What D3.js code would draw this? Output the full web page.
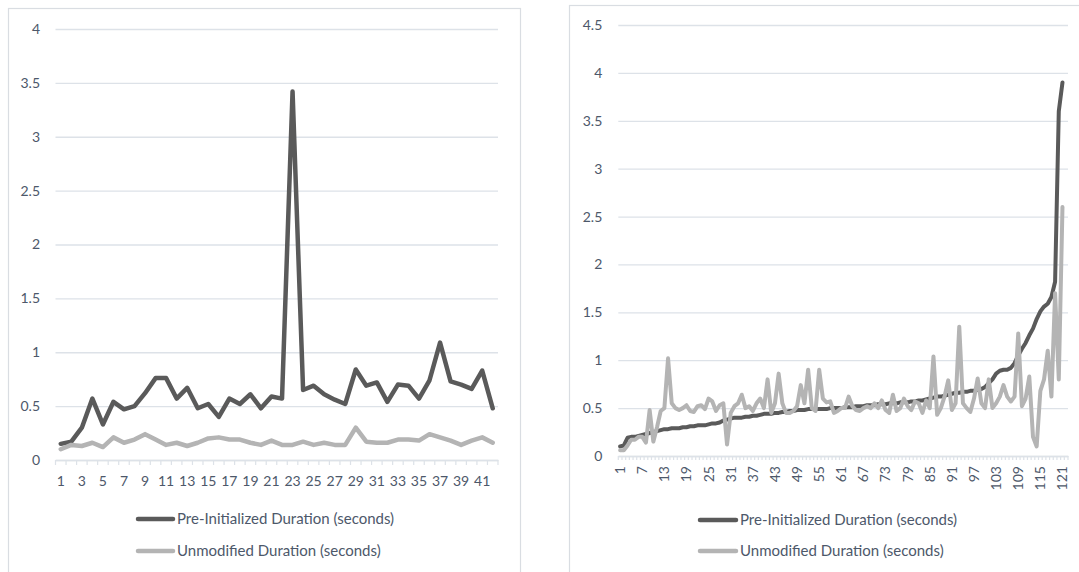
<!DOCTYPE html>
<html><head><meta charset="utf-8">
<script src="https://cdn.jsdelivr.net/npm/d3@7"></script>
<style>
body{margin:0;background:#fff;}
svg{display:block;}
text{font-family:Lato,"Liberation Sans",sans-serif;}
</style></head>
<body><svg id="c" width="1079" height="572"></svg>
<script>
// ---------- DATA ----------
const seriesNames = ["Pre-Initialized Duration (seconds)", "Unmodified Duration (seconds)"];

const leftCategories = d3.range(1, 43);
const leftPreInit = [0.15,0.17,0.30,0.57,0.33,0.54,0.47,0.50,0.62,0.76,
  0.76,0.57,0.67,0.48,0.52,0.40,0.57,0.52,0.61,0.48,
  0.59,0.57,3.42,0.65,0.69,0.61,0.56,0.52,0.84,0.69,
  0.72,0.54,0.70,0.69,0.57,0.74,1.09,0.73,0.70,0.66,
  0.83,0.48];
const leftUnmod = [0.10,0.14,0.13,0.16,0.12,0.21,0.16,0.19,0.24,0.19,
  0.14,0.16,0.13,0.16,0.20,0.21,0.19,0.19,0.16,0.14,
  0.18,0.14,0.14,0.17,0.14,0.16,0.14,0.14,0.30,0.17,
  0.16,0.16,0.19,0.19,0.18,0.24,0.21,0.18,0.14,0.18,
  0.21,0.16];
const leftYTicks = [0,0.5,1,1.5,2,2.5,3,3.5,4];
const leftXTickLabels = [1,3,5,7,9,11,13,15,17,19,21,23,25,27,29,31,33,35,37,39,41];

const rightCategories = d3.range(1, 123);
const rightPreInit = [0.10,0.11,0.19,0.20,0.20,0.21,0.22,0.23,0.24,0.25,
  0.26,0.27,0.28,0.28,0.29,0.29,0.29,0.30,0.30,0.31,
  0.31,0.32,0.32,0.32,0.33,0.34,0.34,0.35,0.37,0.38,
  0.39,0.40,0.40,0.40,0.41,0.41,0.42,0.42,0.43,0.44,
  0.44,0.44,0.45,0.45,0.46,0.46,0.47,0.47,0.48,0.48,
  0.48,0.49,0.49,0.49,0.49,0.49,0.49,0.50,0.50,0.50,
  0.50,0.51,0.51,0.51,0.52,0.52,0.52,0.53,0.53,0.53,
  0.54,0.54,0.54,0.55,0.55,0.55,0.56,0.56,0.56,0.57,
  0.57,0.58,0.58,0.59,0.60,0.61,0.62,0.62,0.63,0.64,
  0.65,0.66,0.66,0.67,0.67,0.68,0.68,0.69,0.70,0.72,
  0.76,0.80,0.86,0.89,0.90,0.90,0.92,0.97,1.05,1.12,
  1.18,1.26,1.33,1.43,1.51,1.56,1.59,1.66,1.82,3.60,
  3.90];
const rightUnmod = [0.06,0.06,0.11,0.17,0.17,0.20,0.20,0.14,0.48,0.15,
  0.30,0.47,0.50,1.02,0.55,0.50,0.48,0.50,0.53,0.47,
  0.46,0.52,0.53,0.49,0.60,0.57,0.47,0.53,0.55,0.12,
  0.45,0.52,0.55,0.64,0.50,0.52,0.47,0.55,0.60,0.50,
  0.80,0.45,0.55,0.86,0.55,0.45,0.45,0.47,0.52,0.74,
  0.55,0.90,0.50,0.47,0.90,0.60,0.56,0.57,0.45,0.47,
  0.50,0.50,0.62,0.52,0.48,0.47,0.50,0.52,0.50,0.55,
  0.50,0.58,0.48,0.45,0.64,0.47,0.50,0.60,0.52,0.48,
  0.57,0.55,0.45,0.58,0.50,1.04,0.43,0.50,0.62,0.79,
  0.48,0.55,1.35,0.55,0.50,0.46,0.60,0.81,0.55,0.50,
  0.80,0.50,0.55,0.62,0.74,0.62,0.57,0.62,1.28,0.52,
  0.60,0.83,0.20,0.10,0.68,0.80,1.10,0.62,1.70,0.80,
  2.60];
const rightYTicks = [0,0.5,1,1.5,2,2.5,3,3.5,4,4.5];
const rightXTickLabels = [1,7,13,19,25,31,37,43,49,55,61,67,73,79,85,91,97,103,109,115,121];

// ---------- STYLE ----------
const colors = ["#5a5a5a", "#b4b4b4"];
const textColor = "#4d586a";
const gridColor = "#dde2e8";
const borderColor = "#d9dde2";
const axisFont = 14;
const legendFont = 15;

const svg = d3.select("#c");

function drawChart(cfg) {
  const g = svg.append("g");
  g.append("rect").attr("x", cfg.box[0]).attr("y", cfg.box[1])
    .attr("width", cfg.box[2]).attr("height", cfg.box[3])
    .attr("fill", "#fff").attr("stroke", borderColor).attr("stroke-width", 1.2);

  const x = d3.scaleBand().domain(cfg.categories).range([cfg.x0, cfg.x1]).padding(0);
  const y = d3.scaleLinear().domain([0, cfg.yMax]).range([cfg.yB, cfg.yT]);

  const ya = g.append("g").attr("transform", `translate(${cfg.x0},0)`)
    .call(d3.axisLeft(y).tickValues(cfg.yTicks).tickSize(-(cfg.x1 - cfg.x0))
      .tickPadding(cfg.yPad).tickFormat(d => String(d)));
  ya.select(".domain").remove();
  ya.selectAll(".tick line").attr("stroke", gridColor).attr("stroke-width", 1.3);
  ya.selectAll(".tick text").attr("fill", textColor).attr("font-size", axisFont)
    .attr("font-family", "Lato");

  const bounds = cfg.categories.map(c => x(c)).concat([cfg.x1]);
  g.append("g").selectAll("line").data(bounds).join("line")
    .attr("x1", d => d).attr("x2", d => d)
    .attr("y1", cfg.yB).attr("y2", cfg.yB + cfg.tickLen)
    .attr("stroke", gridColor).attr("stroke-width", 1.2);

  const xa = g.append("g").attr("transform", `translate(0,${cfg.yB})`)
    .call(d3.axisBottom(x).tickValues(cfg.xLabels).tickSize(0).tickPadding(cfg.xPad));
  xa.select(".domain").attr("stroke", gridColor).attr("stroke-width", 1.3);
  xa.selectAll(".tick text").attr("fill", textColor).attr("font-size", axisFont)
    .attr("font-family", "Lato");
  if (cfg.rotate) {
    xa.selectAll(".tick text")
      .attr("transform", "rotate(-90)")
      .attr("text-anchor", "end")
      .attr("x", -cfg.xPad).attr("y", 0).attr("dy", "0.35em");
  }

  [cfg.s1, cfg.s2].forEach((s, i) => {
    const line = d3.line()
      .x((d, j) => x(cfg.categories[j]) + x.bandwidth() / 2)
      .y(d => y(d));
    g.append("path").datum(s).attr("d", line)
      .attr("fill", "none").attr("stroke", colors[i])
      .attr("stroke-width", cfg.lw).attr("stroke-linejoin", "round")
      .attr("stroke-linecap", "round");
  });

  seriesNames.forEach((name, i) => {
    const ly = cfg.legY[i];
    g.append("line").attr("x1", cfg.legSym[0]).attr("x2", cfg.legSym[1])
      .attr("y1", ly).attr("y2", ly).attr("stroke", colors[i])
      .attr("stroke-width", 4.5).attr("stroke-linecap", "round");
    g.append("text").attr("x", cfg.legText).attr("y", ly).attr("dy", "0.35em")
      .attr("fill", textColor).attr("font-size", legendFont).text(name);
  });
}

drawChart({
  box: [8.5, 8.5, 512, 600],
  categories: leftCategories, s1: leftPreInit, s2: leftUnmod,
  x0: 55.5, x1: 498, yB: 460, yT: 29, yMax: 4,
  yTicks: leftYTicks, yPad: 15.5, xLabels: leftXTickLabels, xPad: 16, tickLen: 5,
  rotate: false, lw: 4.5,
  legSym: [138, 173], legText: 177, legY: [519, 551]
});

drawChart({
  box: [569.5, 5.5, 530, 600],
  categories: rightCategories, s1: rightPreInit, s2: rightUnmod,
  x0: 618.3, x1: 1068, yB: 456, yT: 25, yMax: 4.5,
  yTicks: rightYTicks, yPad: 16, xLabels: rightXTickLabels, xPad: 10, tickLen: 4,
  rotate: true, lw: 4,
  legSym: [700, 736], legText: 740, legY: [520, 551]
});
</script>
</body></html>
